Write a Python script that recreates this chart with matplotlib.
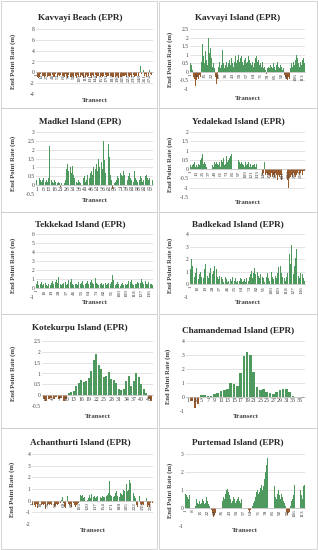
import numpy as np
import matplotlib
matplotlib.use("Agg")
import matplotlib.pyplot as plt
from matplotlib.patches import Rectangle
from matplotlib.ticker import FuncFormatter

plt.rcParams['font.family'] = ['Liberation Serif', 'DejaVu Serif']

# ---- data (EPR in m/yr, one value per transect) ----
kavvayi_beach = [
    7.6, 1.2, -0.3, -0.8, -0.6, -1.1, -0.7, -0.5, -0.9, -0.6, -0.4, -0.8, -1.2, -0.7, -0.5, -0.6, -0.9, -0.7, -0.4, -0.6,
    -0.8, -0.5, -0.7, -1.0, -0.6, -0.4, -0.7, -0.9, -0.5, -0.6, -0.8, -1.1, -0.7, -0.5, -0.6, -0.4, -0.7, -0.9, -0.6, -0.5,
    -0.7, -0.8, -0.6, -1.0, -0.9, -0.5, -0.4, -0.6, -0.8, -0.7, -1.2, -0.9, -0.6, -0.5, -0.7, -0.8, -0.6, -0.4, -0.5, -0.7,
    -0.9, -1.0, -0.8, -0.6, -0.5, -0.7, -0.9, -1.1, -0.8, -0.6, -0.4, -0.5, -0.7, -0.6, -0.8, -1.0, -0.7, -0.5, -0.6, -0.8,
    -0.6, -0.7, -0.9, -1.3, -0.8, -0.6, -0.5, -0.7, -0.6, -0.8, -0.9, -0.7, -0.5, -0.4, -0.6, -0.8, -1.0, -0.7, -0.6, -0.5,
    -0.7, -0.9, -0.8, -0.6, -0.7, -1.1, -0.9, -0.6, -0.5, -0.6, -0.8, -0.7, -0.9, -1.0, -0.7, -0.6, -0.5, -0.7, -0.8, -0.6,
    -0.5, -0.7, -0.9, -0.8, -1.2, -0.7, -0.6, -0.5, -0.6, -0.8, -0.7, -0.9, -1.0, -0.8, -0.6, -0.5, -0.7, -0.6, -0.8, -0.9,
    -0.7, -0.6, -0.5, -0.8, -1.0, -0.9, -0.7, -0.6, -0.8, -0.7, -0.5, -0.6, -0.9, -1.1, -0.8, -0.6, -0.7, -0.5, -0.6, -0.8,
    -0.9, -0.7, -0.6, -0.8, -1.0, -0.7, -0.5, -0.6, -0.8, -0.9, -0.7, -0.6, -0.5, -0.7, -0.8, -1.2, -0.9, -0.7, -0.6, -0.5,
    -0.6, -0.8, -0.7, -0.9, -1.0, -0.8, -0.6, -0.5, -0.7, -0.6, -0.8, -0.9, -0.7, -0.5, -0.6, -0.7, -0.9, -1.1, -0.8, -0.6,
    -0.5, -0.7, -0.8, -0.6, -0.9, -1.0, -0.7, -0.6, -0.5, -0.7, -0.8, -0.6, -0.9, -0.7, -0.5, -0.6, -0.8, -1.0, -0.7, -0.6,
    -0.4, -0.6, -0.7, -0.9, -0.8, -0.6, -0.5, -0.7, -0.9, -1.1, -0.8, -0.6, -0.7, -0.5, -0.6, -0.8, -0.7, -0.9, -0.6, -0.5,
    -0.7, -0.6, -0.4, -0.5, -0.3, -0.6, -0.4, -0.2, 0.3, 0.6, 1.1, 0.4, -0.3, -0.5, 0.2, 0.8, 1.4, 0.5, -0.4, -0.6,
    -0.5, -0.7, -0.4, -0.6, -0.8, -0.5, -0.3, -0.6, -0.4, -0.7, -0.5, 0.4, 1.6, 0.9, -0.4, -0.6, -0.5, -0.3, -0.4, -0.6,
]

kavvayi_island = [
    0.5, 0.4, 0.1, -0.3, -0.4, -0.8, -0.5, -0.3, -0.4, -0.2,
    -0.3, 0.6, 1.6, 0.9, 0.5, 1.2, 0.7, 0.4, 2.0, 1.1,
    1.4, 0.8, 0.3, 0.5, 0.2, -0.3, -0.7, -0.4, 0.3, 0.6,
    0.2, 0.4, 1.3, 0.5, 0.2, 0.4, 0.6, 0.3, 0.5, 0.7,
    0.4, 0.8, 0.5, 0.3, 0.6, 0.9, 0.5, 0.7, 1.0, 0.6,
    0.8, 0.9, 0.6, 0.4, 0.7, 0.8, 0.5, 0.6, 0.9, 0.7,
    0.5, 0.4, 0.6, 0.3, 0.5, 0.8, 0.9, 0.6, 0.7, 0.4,
    0.5, 0.3, 0.6, 0.2, 0.3, 0.1, -0.1, 0.2, 0.3, 0.2,
    0.4, 0.3, 0.2, 0.5, 0.3, 0.1, 0.4, 0.6, 0.3, 0.2,
    0.4, 0.3, 0.1, 0.2, -0.2, -0.3, -0.4, -0.5, -0.3, -0.4,
    0.2, 0.5, 0.3, 0.6, 0.4, 0.7, 1.0, 0.8, 0.5, 0.3,
    0.6, 0.4, 0.7, 0.8, 0.5,
]

madkel = [
    0.3, 0.2, 0.4, 0.3, 0.2, 0.3, 0.4, 0.2, 0.3, 0.2,
    0.4, 2.2, 0.3, 0.2, 0.1, 0.3, 0.2, 0.1, 0.2, 0.1,
    -0.1, 0.1, 0.2, 0.1, 0.3, 0.9, 1.2, 0.8, 1.0, 0.7,
    1.1, 0.6, 0.4, 0.2, 0.1, 0.3, 0.2, 0.1, 0.2, 0.4,
    0.5, 0.2, 0.3, 0.6, 0.4, 0.7, 0.8, 0.6, 1.0, 0.9,
    1.2, 0.8, 1.5, 1.0, 1.3, 0.9, 2.5, 1.4, 0.7, 1.1,
    2.3, 1.6, 0.6, 0.3, -0.2, 0.1, 0.2, 0.3, 0.5, 0.4,
    0.7, 0.6, 0.5, 0.8, 0.6, 0.4, 0.3, 0.5, 0.7, 0.4,
    0.3, 0.2, 0.8, 0.4, 0.3, 0.2, 0.3, 0.5, 0.4, 0.2,
    0.3, 0.5, 0.6, 0.4, 0.3, 0.4, 0.2, 0.3,
]

yedalekad = [
    0.2, 0.3, 0.1, 0.4, 0.2, 0.6, 0.3, 0.9, 0.4, 0.2, 0.1, 0.3, 0.2, 0.4, 0.1, 0.2, 0.3, 0.1, 0.2, 0.4,
    0.5, 0.3, 0.6, 0.4, 0.8, 0.5, 0.3, 0.2, 0.4, 0.6, 0.3, 0.2, 0.1, 0.3, 0.5, 0.2, 0.4, 0.3, 0.1, 0.2,
    0.3, 0.5, 0.4, 0.2, 0.3, 0.1, 0.2, 0.4, 0.6, 0.3, 0.2, 0.4, 0.5, 0.3, 0.1, 0.2, 0.3, 0.4, 0.2, 0.1,
    0.3, 0.5, 0.7, 0.4, 0.3, 0.6, 0.5, 0.2, 0.4, 0.3, 0.5, 0.7, 0.6, 0.4, 0.8, 0.5, 0.3, 0.6, 0.9, 0.7,
    0.5, 0.8, 1.0, 0.6, 0.9, 1.2, 1.4, 1.1, 0.8, 1.0, 0.7, 0.9, 0.6, 0.8, 0.5, 0.7, 0.4, 0.6, 0.3, 0.5,
    0.4, 0.2, 0.3, 0.5, 0.2, 0.3, 0.1, 0.2, 0.4, 0.3, 0.2, 0.1, 0.3, 0.2, 0.4, 0.3, 0.1, 0.2, 0.3, 0.2,
    0.1, 0.3, 0.2, 0.4, 0.2, 0.1, 0.3, 0.2, 0.1, 0.2, 0.3, 0.1, 0.2, 0.1, 0.2, 0.1, -0.1, 0.1, -0.2, -0.1,
    -0.2, -0.3, -0.4, -0.2, -0.3, 0.4, -0.2, -0.3, -0.1, -0.2, -0.4, -0.3, -0.2, -0.3, -0.5, -0.3, -0.2, -0.4, -0.3, -0.2,
    -0.3, -0.4, -0.2, -0.3, -0.5, -0.4, -0.3, -0.2, -0.4, -0.3, -0.5, -0.6, -0.4, -0.3, -0.2, -0.4, -0.5, -0.3, -0.4, -0.6,
    -0.5, -0.4, -0.7, -0.9, -1.0, -0.6, -0.4, -0.3, -0.5, -0.4, -0.6, -0.8, -1.0, -0.7, -0.5, -0.3, -0.4, -0.2, -0.3, -0.5,
    -0.4, -0.3, -0.2, -0.4, -0.3, -0.5, -0.4, -0.2, -0.3, -0.4, -0.2, -0.3, -0.1, -0.2, -0.3, -0.4, -0.2, -0.3, -0.1, -0.2,
    -0.3, -0.2, -0.1, -0.2, -0.1,
]

tekkekad = [
    0.5, 0.8, 0.3, 0.6, 1.0, 0.4, 0.7, 0.3, 0.5, 0.9, 0.4, 0.6, 0.3, 0.2, 0.5, 0.7, 0.4, 0.3, 0.6, 0.8,
    0.5, 0.3, 0.4, 0.7, 0.9, 0.6, 1.2, 5.0, 0.8, 0.4, 0.3, 0.5, 0.6, 0.4, 0.8, 0.7, 0.3, 0.5, 0.9, 0.6,
    0.4, 0.7, 1.0, 0.5, 0.3, 0.6, 0.8, 0.4, 0.5, 0.3, 0.7, 0.9, 0.5, 0.4, 0.6, 0.8, 0.3, 0.5, 0.7, 0.4,
    0.6, 0.8, 0.5, 0.3, 0.4, 0.7, 0.9, 0.6, 0.4, 0.5, 0.8, 1.1, 0.6, 0.4, 0.3, 0.5, 0.7, 0.4, 0.6, 0.3,
    0.5, 0.4, 0.7, 0.6, 0.3, 0.4, 0.6, 0.8, 0.5, 0.4, 0.7, 1.5, 0.9, 0.6, 0.4, 0.3, 0.5, 0.7, 0.4, 0.6,
    0.3, 0.2, 0.4, 0.6, 0.3, 0.5, 0.7, 0.4, 0.3, 0.5, 0.8, 0.6, 0.4, 0.7, 0.9, 0.5, 0.3, 0.6, 0.8, 0.4,
    0.5, 0.7, 0.6, 0.3, 0.4, 0.6, 1.0, 0.7, 0.5, 0.3, 0.6, 0.8, 0.5, 0.4, 0.7, 0.9, 0.6, 0.4, 0.5, 0.3,
]

badkekad = [
    1.2, 2.0, 1.5, 0.8, 1.1, 0.6, 0.9, 1.3, 0.5, 0.7, 0.4, 0.8, 1.0, 0.6, 1.4, 0.9, 0.5, 1.2, 1.6, 1.8,
    1.1, 0.7, 0.5, 0.9, 1.3, 0.6, 0.4, 0.8, 1.1, 1.5, 0.9, 1.9, 1.2, 0.6, 0.4, 0.7, 0.5, 0.3, 0.6, 0.4,
    0.2, 0.5, 0.3, 0.6, 0.4, 0.2, 0.3, 0.5, 0.7, 0.4, 0.3, 0.6, 0.2, 0.4, 0.3, 0.5, 0.2, 0.3, 0.4, 0.2,
    0.3, 0.5, 0.4, 0.2, 0.6, 0.3, 0.4, 0.2, 0.5, 0.7, 0.4, 0.3, 0.6, 0.8, 1.1, 0.7, 0.5, 0.9, 1.3, 0.8,
    1.2, 1.6, 1.0, 0.7, 0.5, 0.8, 0.4, 0.3, 0.6, 0.5, 0.2, 0.4, 0.3, 0.6, 0.9, 0.5, 0.3, 0.4, 0.7, 1.0,
    0.6, 0.4, 0.8, 1.2, 0.7, 0.5, 0.9, 1.4, 1.8, 2.2, 1.5, 0.9, 0.6, 0.4, 0.7, 0.5, 0.3, 0.6, 0.9, 1.3,
    1.8, 2.4, 1.6, 3.1, 2.0, 1.2, 0.8, 1.5, 2.1, 2.8, 1.9, 1.1, 0.7, 0.5, 0.9, 0.6, 0.4, 0.8, 0.5, 0.3,
]

kotekurpu = [
    -0.2, -0.25, -0.2, -0.15, -0.2, -0.1, -0.2, -0.15, -0.25, -0.2,
    0.1, 0.15, 0.2, 0.4, 0.55, 0.7, 0.6, 0.65, 0.8, 1.1,
    1.6, 1.9, 1.4, 1.2, 0.85, 0.9, 1.05, 0.75, 0.7, 0.55,
    0.3, 0.25, 0.3, 0.65, 0.9, 0.4, 0.65, 1.0, 0.85, 0.5,
    0.3, 0.1, -0.2, -0.25,
]

chamandemad = [
    0.0, -0.3, -0.8, -0.5, 0.15, 0.15, 0.1, 0.05, 0.2, 0.3,
    0.4, 0.5, 0.55, 1.0, 0.95, 0.8, 1.7, 2.9, 3.25, 3.0,
    1.8, 0.75, 0.5, 0.6, 0.35, 0.3, 0.25, 0.35, 0.5, 0.6,
    0.55, 0.35, 0.1, 0.02, 0.02, -0.1,
]

achanthurti = [
    -0.4, -0.6, -0.3, -0.5, -0.7, -0.4, -0.2, -0.5, -0.6, -0.3, -0.4, -0.6, -0.5, -0.3, -0.2, -0.4, -0.6, -0.7, -0.5, -0.3,
    -0.4, -0.5, -0.3, -0.6, -0.4, -0.2, -0.3, -0.5, -0.7, -0.4, -0.3, -0.5, -0.6, -0.4, -0.2, -0.3, -0.5, -0.4, -0.6, -0.3,
    -0.2, -0.4, -0.5, -0.3, -0.6, -0.7, -0.4, -0.3, -0.5, -0.2, -0.4, -0.6, -0.3, -0.5, -0.4, -0.2, -0.3, -0.5, -0.6, -0.4,
    -0.3, -0.2, -0.4, 0.1, 0.2, 0.3, 0.1, -0.2, -0.4, -0.5, -0.3, -0.6, -0.4, -0.2, -0.3, 0.2, 0.4, 0.2, -0.3, -0.5,
    -0.4, -0.6, -0.3, -0.2, -0.5, -0.4, -0.3, -0.6, -0.5, -0.2, -0.3, -0.4, -0.2, -0.5, -0.3, -0.4, -0.2, -0.3, -0.1, -0.2,
    0.2, 0.4, 0.6, 0.3, 0.5, 0.2, 0.4, 0.7, 0.5, 0.3, 0.2, 0.4, 0.3, 0.6, 0.4, 0.2, 0.3, 0.5, 0.2, 0.1,
    0.3, 0.2, 0.4, 0.5, 0.3, 0.2, 0.4, 0.6, 0.3, 0.5, 0.2, 0.1, 0.3, 0.2, 0.4, 0.3, 0.2, 0.1, 0.3, 0.2,
    0.4, 0.3, 0.5, 0.2, 0.3, 0.4, 0.2, 0.3, 0.1, 0.2, 0.3, 0.4, 0.2, 0.3, 0.5, 0.3, 0.2, 0.4, 0.6, 0.3,
    0.4, 0.2, 0.5, 0.3, 0.7, 1.0, 1.7, 0.8, 0.5, 0.3, 0.4, 0.2, 0.3, 0.5, 0.4, 0.3, 0.6, 0.4, 0.5, 0.7,
    0.5, 0.8, 0.6, 0.4, 0.3, 0.5, 0.4, 0.6, 0.3, 0.5, 0.7, 0.4, 0.6, 0.8, 0.5, 0.7, 0.9, 0.6, 0.8, 1.0,
    1.2, 1.6, 2.0, 1.4, 1.0, 0.8, 1.1, 0.9, 1.3, 1.8, 2.2, 1.5, 1.2, 2.6, 3.5, 2.8, 1.6, 1.0, 0.7, 0.5,
    0.4, 0.3, 0.2, -0.2, -0.4, -0.3, -0.5, -0.4, -0.2, -0.3, 0.2, 0.4, 0.3, -0.3, -0.5, -0.4, -0.6, -0.3, -0.2, -0.4,
    -0.3, -0.5, -0.4, -0.2, 0.3, 0.4, 0.2, -0.3, -0.5, -0.6, -0.4, -0.3, -0.5, -0.4, -0.2, -0.3, -0.4, -0.5, -0.3, -0.2,
]

purtemad = [
    0.8, 0.7, 0.6, 0.5, 0.7, 0.6, 0.4, 0.2, -0.1, 0.1,
    0.5, 0.3, 0.2, 0.4, 0.2, 0.3, 0.5, 0.4, 0.2, 0.3,
    0.6, 0.4, 0.2, 0.1, 0.0, -0.1, -0.3, -0.5, -0.4, -0.3,
    -0.2, -0.1, 0.0, 0.1, 0.3, 0.4, 0.6, 0.5, 0.8, 1.0,
    1.05, 0.9, 0.7, 0.5, 0.3, 0.4, 0.6, 0.5, 0.3, 0.4,
    0.5, 0.6, 0.4, 0.3, 0.5, 0.7, 0.6, 0.4, 0.2, 0.1,
    -0.1, -0.2, -0.1, 0.0, 0.1, 0.3, 0.4, 0.6, 0.9, 1.0,
    0.8, 0.9, 1.1, 1.3, 1.0, 1.2, 1.6, 2.0, 2.4, 2.8,
    2.3, 1.8, 2.6, 2.0, 1.7, 1.2, 0.6, 0.5, 0.8, 1.0,
    0.7, 0.5, 0.8, 0.6, 0.4, 0.3, 0.1, -0.2, -0.4, -0.3,
    -0.2, 0.1, 0.4, 0.5, 0.7, 1.3, 1.6, 1.1, 0.8, 1.3,
    1.0, 0.7, 0.5, 1.2, 1.3,
]

W, H = 318, 550
GREEN = '#4e9a5e'
BROWN = '#9a5b2c'
GRID = '#d9d9d9'

fig = plt.figure(figsize=(W / 100, H / 100), dpi=100)
fig.patch.set_facecolor('white')


def fx(x):
    return x / W


def fy(y):
    return 1 - y / H


# panel frames (pixel boxes)
rows = [(1, 108), (108, 212), (212, 314), (314, 428), (428, 549)]
for top, bot in rows:
    for l, r in [(1, 157), (159, 317)]:
        fig.patches.append(Rectangle((fx(l), fy(bot)), fx(r - l), (bot - top) / H,
                                     transform=fig.transFigure, fill=False,
                                     edgecolor='#cfcfcf', lw=0.6))


def panel(vals, title, box, ylim, ystep, lab_step, rot, title_y, xlab_y, ylab_x):
    l, t, r, b = box
    ax = fig.add_axes([fx(l), fy(b), fx(r - l), (b - t) / H])
    x = np.arange(1, len(vals) + 1)
    v = np.array(vals)
    colors = [GREEN if val >= 0 else BROWN for val in v]
    ax.bar(x, v, width=0.8, color=colors, linewidth=0, zorder=1)
    ax.set_xlim(0.3, len(vals) + 0.7)
    ax.set_ylim(*ylim)
    yt = np.arange(ylim[0], ylim[1] + ystep / 2, ystep)
    ax.set_yticks(yt)
    for yv in yt:
        ax.axhline(yv, color=GRID, lw=0.5, zorder=0.5)
    ax.yaxis.set_major_formatter(FuncFormatter(lambda y, p: '%g' % round(y, 2)))
    ax.set_axisbelow(False)
    for s in ['left', 'right', 'top']:
        ax.spines[s].set_visible(False)
    ax.spines['bottom'].set_position(('data', 0))
    ax.spines['bottom'].set_color('#bfbfbf')
    ax.spines['bottom'].set_linewidth(0.5)
    ax.set_xticks(x[::lab_step])
    ax.set_xticklabels([str(i) for i in x[::lab_step]], rotation=rot)
    ax.tick_params(axis='both', length=0, labelsize=4, pad=1, colors='#404040')
    ax.tick_params(axis='x', labelsize=3.8 if rot else 4.2, pad=1)
    cx = fx(80) if l < 158 else fx(238)
    fig.text(cx, fy(title_y), title, ha='center', va='center',
             fontsize=6.6, fontweight='bold', color='#262626')
    fig.text(fx((l + r) / 2), fy(xlab_y), 'Transect', ha='center', va='center',
             fontsize=5, fontweight='bold', color='#404040')
    fig.text(fx(ylab_x), fy((t + b) / 2), 'End Point Rate (m)', ha='center', va='center',
             rotation=90, fontsize=4.8, fontweight='bold', color='#404040')
    return ax


panel(kavvayi_beach, 'Kavvayi Beach (EPR)', (36, 29, 153, 94), (-4, 8), 2, 13, 90, 18, 101, 13)
panel(kavvayi_island, 'Kavvayi Island (EPR)', (190, 29, 305, 89), (-1, 2.5), 0.5, 7, 90, 18, 98, 170)
panel(madkel, 'Madkel Island (EPR)', (36, 132, 153, 194), (-0.5, 3), 0.5, 5, 0, 121, 201, 13)
panel(yedalekad, 'Yedalekad Island (EPR)', (190, 132, 305, 197), (-1.5, 2), 0.5, 12, 90, 121, 203, 170)
panel(tekkekad, 'Tekkekad Island (EPR)', (36, 234, 153, 297), (-1, 6), 1, 9, 90, 224, 303, 13)
panel(badkekad, 'Badkekad Island (EPR)', (190, 234, 305, 297), (-1, 4), 1, 9, 90, 224, 303, 170)
panel(kotekurpu, 'Kotekurpu Island (EPR)', (42, 341, 153, 406), (-0.5, 2.5), 0.5, 3, 0, 328, 417, 13)
panel(chamandemad, 'Chamandemad Island (EPR)', (186, 341, 305, 411), (-1, 4), 1, 2, 0, 330, 417, 168)
panel(achanthurti, 'Achanthurti Island (EPR)', (32, 454, 153, 524), (-2, 4), 1, 17, 90, 442, 530, 12)
panel(purtemad, 'Purtemad Island (EPR)', (185, 454, 305, 526), (-1, 3), 1, 7, 90, 442, 531, 170)

fig.savefig('out.png', dpi=100, facecolor='white')
